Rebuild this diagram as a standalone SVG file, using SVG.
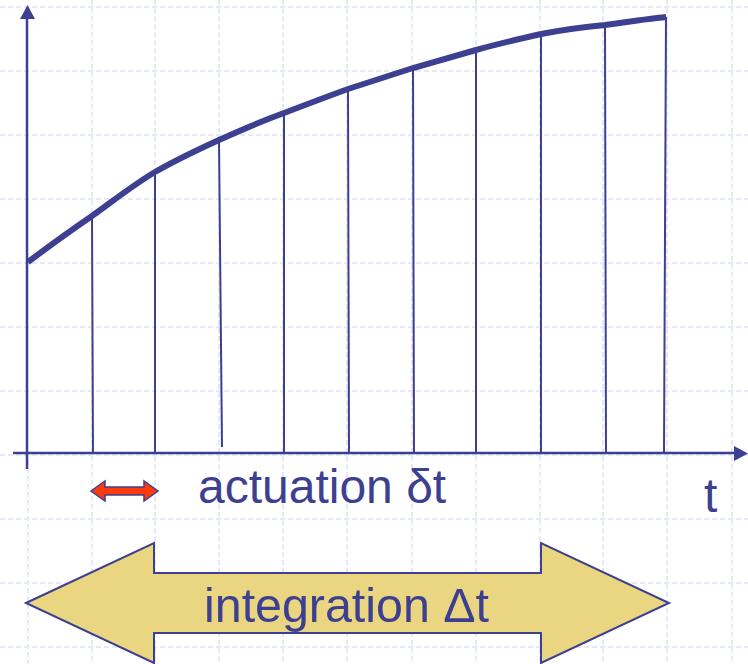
<svg xmlns="http://www.w3.org/2000/svg" width="748" height="664" viewBox="0 0 748 664">
<defs>
<style>
.grid{stroke:#e3e9f9;stroke-width:2;stroke-dasharray:5 3;fill:none}
.ax{stroke:#3d4090;stroke-width:2.5;fill:none}
.tick{stroke:#3d4090;stroke-width:2;fill:none}
.curve{stroke:#3d4090;stroke-width:6;fill:none}
.lbl{font-family:"Liberation Sans",Arial,sans-serif;font-size:48px;fill:#3d4090}
</style>
</defs>
<rect width="748" height="664" fill="#ffffff"/>
<g id="grid">
<path class="grid" d="M92 0V664M155 0V664M219 0V664M283 0V664M347 0V664M412 0V664M476 0V664M540 0V664M603 0V664M667 0V664M732 0V664M28 460V664"/>
<path class="grid" d="M0 7H748M0 71H748M0 135H748M0 199H748M0 263H748M0 327H748M0 391H748M0 455H748M0 519H748M0 583H748M0 647H748"/>
</g>
<g id="connectors">
<path class="ax" d="M27 469V18"/>
<polygon points="20,19 35,19 27.5,5" fill="#3d4090"/>
<path class="ax" d="M13 453H735"/>
<polygon points="734,446 734,461 748,453.5" fill="#3d4090"/>
<path class="tick" d="M92 216L93 453M155 172V453M219 140L222 447M284 113V453M348 89L349 453M413 68L414 453M476 50V453M541 34V453M605 25L606 453M666 17L664 453"/>
<path class="curve" d="M28 262C40 253 70 231 92 216C113 201 133 185 155 172C176 160 197 150 219 140C241 130 262 121 284 113C305 105 326 97 348 89C370 82 391 75 413 68C434 62 455 56 476 50C497 44 519 39 541 34C562 30 584 27 605 25C626 22 655 18 666 17"/>
</g>
<g id="actuation">
<polygon points="91,491 105,481 105,487 144,487 144,481 158,491 144,501 144,495 105,495 105,501" fill="#ff3a0a" stroke="#3d4090" stroke-width="1.5"/>
<text class="lbl" x="198" y="503">actuation δt</text>
</g>
<g id="t-label">
<text class="lbl" x="704" y="512">t</text>
</g>
<g id="integration">
<polygon points="26,603 154,543 154,573 541,573 541,543 669,603 541,663 541,633 154,633 154,663" fill="#ead681" stroke="#3d4090" stroke-width="2"/>
<text class="lbl" x="204" y="622" textLength="285" lengthAdjust="spacingAndGlyphs">integration Δt</text>
</g>
</svg>
